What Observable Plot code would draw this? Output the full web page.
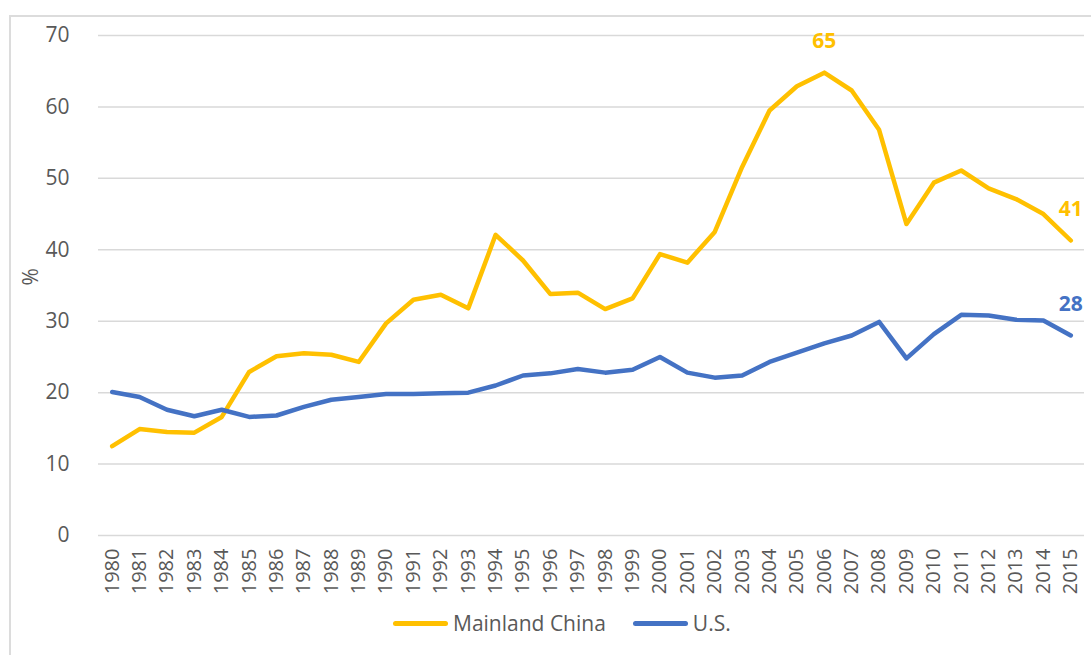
<!DOCTYPE html>
<html>
<head>
<meta charset="utf-8">
<script src="https://cdn.jsdelivr.net/npm/d3@7"></script>
<script src="https://cdn.jsdelivr.net/npm/@observablehq/plot@0.6"></script>
<style>
  html, body { margin: 0; padding: 0; background: #fff; }
  body { font-family: "Open Sans", sans-serif; }
  #wrap { position: relative; width: 1091px; height: 655px; overflow: hidden; }
  #frame { position: absolute; left: 9px; top: 15px; width: 1200px; height: 800px; border: 2px solid #dcdcdc; box-sizing: border-box; }
  #chart { position: absolute; left: 0; top: 0; width: 1091px; }
  #legend { position: absolute; left: 393px; top: 607px; display: flex; align-items: center; font-size: 21px; color: #595959; height: 32px; }
  .sw { width: 55px; height: 5px; border-radius: 3px; margin-right: 5px; }
  .item { display: flex; align-items: center; }
</style>
</head>
<body>
<div id="wrap">
  <div id="frame"></div>
  <div id="chart"></div>
  <div id="legend"></div>
</div>
<script>
const years = [1980,1981,1982,1983,1984,1985,1986,1987,1988,1989,
               1990,1991,1992,1993,1994,1995,1996,1997,1998,1999,
               2000,2001,2002,2003,2004,2005,2006,2007,2008,2009,
               2010,2011,2012,2013,2014,2015];
const china = [12.5,14.9,14.5,14.4,16.6,22.9,25.1,25.5,25.3,24.3,
               29.7,33.0,33.7,31.8,42.1,38.5,33.8,34.0,31.7,33.2,
               39.4,38.2,42.5,51.6,59.5,62.9,64.8,62.3,56.8,43.6,
               49.4,51.1,48.6,47.1,45.0,41.3];
const us =    [20.1,19.4,17.6,16.7,17.6,16.6,16.8,18.0,19.0,19.4,
               19.8,19.8,19.9,20.0,21.0,22.4,22.7,23.3,22.8,23.2,
               25.0,22.8,22.1,22.4,24.3,25.6,26.9,28.0,29.9,24.8,
               28.2,30.9,30.8,30.2,30.1,28.0];
const seriesNames = ["Mainland China", "U.S."];
const seriesColors = ["#FFC000", "#4472C4"];
const yTicks = [0,10,20,30,40,50,60,70];
const annotations = [
  {year: 2006, value: 64.8, text: "65", series: "Mainland China"},
  {year: 2015, value: 41.3, text: "41", series: "Mainland China"},
  {year: 2015, value: 28.0, text: "28", series: "U.S."}
];

const rows = [];
years.forEach((yr, i) => {
  rows.push({year: yr, value: china[i], series: seriesNames[0]});
  rows.push({year: yr, value: us[i], series: seriesNames[1]});
});

const chart = Plot.plot({
  width: 1091,
  height: 600,
  marginLeft: 98,
  marginRight: 7,
  marginTop: 35,
  marginBottom: 65,
  style: { fontFamily: "'Open Sans', sans-serif", fontSize: "20px", color: "#595959", background: "transparent" },
  x: { type: "point", domain: years, padding: 0.5, round: false, label: null },
  y: { domain: [0, 70], label: null },
  color: { domain: seriesNames, range: seriesColors },
  marks: [
    Plot.gridY(yTicks, { stroke: "#d9d9d9", strokeOpacity: 1, strokeWidth: 1.5 }),
    Plot.axisY(yTicks, { tickSize: 0, tickPadding: 29, fill: "#595959", fontSize: 21, label: null }),
    Plot.axisX({ tickSize: 0, tickPadding: 13, tickRotate: -90, fill: "#595959", fontSize: 20, tickFormat: d => String(d), label: null }),
    Plot.line(rows, { x: "year", y: "value", stroke: "series", z: "series", strokeWidth: 4.5, strokeLinejoin: "round", strokeLinecap: "round" }),
    Plot.text(annotations, { x: "year", y: "value", text: "text", fill: "series", fontWeight: "bold", fontSize: 21, dy: -31, textAnchor: "middle" }),
    Plot.text(["%"], { frameAnchor: "left", dx: -67, rotate: -90, fill: "#595959", fontSize: 21 })
  ]
});
document.getElementById("chart").appendChild(chart);

const legend = document.getElementById("legend");
seriesNames.forEach((name, i) => {
  const item = document.createElement("div");
  item.className = "item";
  item.style.marginRight = i === 0 ? "27px" : "0";
  const sw = document.createElement("div");
  sw.className = "sw";
  sw.style.background = seriesColors[i];
  const tx = document.createElement("span");
  tx.textContent = name;
  item.appendChild(sw);
  item.appendChild(tx);
  legend.appendChild(item);
});
</script>
</body>
</html>
